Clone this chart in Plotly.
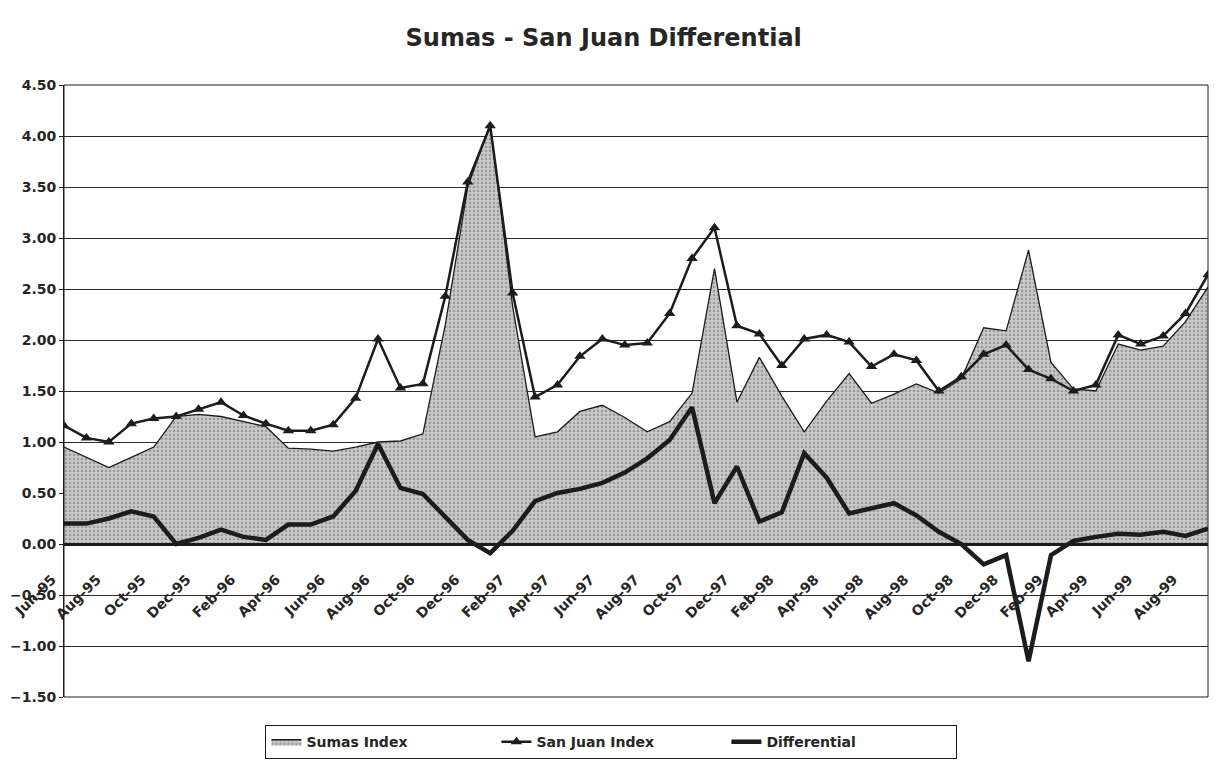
import plotly.graph_objects as go

# Monthly index prices, Jun-95 through Sep-99
months = [
    "Jun-95", "Jul-95", "Aug-95", "Sep-95", "Oct-95", "Nov-95", "Dec-95",
    "Jan-96", "Feb-96", "Mar-96", "Apr-96", "May-96", "Jun-96", "Jul-96",
    "Aug-96", "Sep-96", "Oct-96", "Nov-96", "Dec-96",
    "Jan-97", "Feb-97", "Mar-97", "Apr-97", "May-97", "Jun-97", "Jul-97",
    "Aug-97", "Sep-97", "Oct-97", "Nov-97", "Dec-97",
    "Jan-98", "Feb-98", "Mar-98", "Apr-98", "May-98", "Jun-98", "Jul-98",
    "Aug-98", "Sep-98", "Oct-98", "Nov-98", "Dec-98",
    "Jan-99", "Feb-99", "Mar-99", "Apr-99", "May-99", "Jun-99", "Jul-99",
    "Aug-99", "Sep-99",
]

sumas_index = [
    0.95, 0.85, 0.75, 0.85, 0.95, 1.25, 1.27,
    1.25, 1.20, 1.15, 0.94, 0.93, 0.91, 0.95,
    1.00, 1.01, 1.08, 2.15, 3.50,
    4.12, 2.33, 1.05, 1.10, 1.30, 1.36, 1.24,
    1.10, 1.20, 1.48, 2.70, 1.39,
    1.83, 1.45, 1.10, 1.40, 1.67, 1.38, 1.47,
    1.57, 1.48, 1.62, 2.12, 2.09,
    2.88, 1.78, 1.52, 1.50, 1.96, 1.90, 1.94,
    2.18, 2.52,
]

san_juan_index = [
    1.16, 1.04, 1.00, 1.18, 1.23, 1.25, 1.32,
    1.39, 1.26, 1.18, 1.11, 1.11, 1.17, 1.43,
    2.01, 1.53, 1.57, 2.43, 3.55,
    4.10, 2.46, 1.44, 1.56, 1.84, 2.01, 1.95,
    1.97, 2.26, 2.80, 3.10, 2.14,
    2.06, 1.75, 2.01, 2.05, 1.98, 1.74, 1.86,
    1.80, 1.50, 1.64, 1.86, 1.95,
    1.71, 1.62, 1.50, 1.56, 2.05, 1.96, 2.04,
    2.26, 2.64,
]

differential = [
    0.20, 0.20, 0.25, 0.32, 0.27, 0.00, 0.06,
    0.14, 0.07, 0.04, 0.19, 0.19, 0.27, 0.52,
    0.98, 0.55, 0.49, 0.27, 0.04,
    -0.09, 0.13, 0.42, 0.50, 0.54, 0.60, 0.70,
    0.84, 1.02, 1.34, 0.40, 0.76,
    0.22, 0.31, 0.89, 0.65, 0.30, 0.35, 0.40,
    0.28, 0.12, 0.00, -0.20, -0.11,
    -1.15, -0.11, 0.03, 0.07, 0.10, 0.09, 0.12,
    0.08, 0.15,
]

y_ticks = [4.5, 4.0, 3.5, 3.0, 2.5, 2.0, 1.5, 1.0, 0.5, 0.0, -0.5, -1.0, -1.5]
x_tick_labels = months[::2]

FONT = "DejaVu Sans, Liberation Sans, Arial, sans-serif"
INK = "#1c1c1c"
TEXT = "#262626"

fig = go.Figure()

fig.add_trace(go.Scatter(
    x=months, y=sumas_index, name="Sumas Index",
    mode="lines", fill="tozeroy",
    line=dict(color=INK, width=1.3),
    fillcolor="#c0c0c0",
    fillpattern=dict(shape=".", bgcolor="#c8c8c8", fgcolor="#6e6e6e",
                     size=4, solidity=0.3),
))

fig.add_trace(go.Scatter(
    x=months, y=san_juan_index, name="San Juan Index",
    mode="lines+markers",
    line=dict(color=INK, width=2.5),
    marker=dict(symbol="triangle-up", size=10, color=INK),
))

fig.add_trace(go.Scatter(
    x=months, y=differential, name="Differential",
    mode="lines",
    line=dict(color=INK, width=4.5),
))

fig.update_layout(
    width=1222, height=761,
    margin=dict(l=64, r=14, t=85, b=64, autoexpand=False),
    paper_bgcolor="white", plot_bgcolor="white",
    font=dict(family=FONT, color=TEXT),
    title=dict(
        text="Sumas - San Juan Differential",
        font=dict(family=FONT, size=24, weight="bold", color=TEXT),
        x=0.494, xanchor="center", y=1 - 38 / 761, yanchor="middle",
    ),
    xaxis=dict(
        type="category",
        range=[0, len(months) - 1],
        anchor="free", position=0.25,
        showline=True, linecolor=INK, linewidth=2.5,
        showgrid=False, zeroline=False,
        tickmode="array", tickvals=x_tick_labels, ticktext=x_tick_labels,
        tickangle=-45, ticks="",
        ticklabelshift=-12, ticklabelstandoff=20,
        tickfont=dict(family=FONT, size=14, weight="bold", color=TEXT),
    ),
    yaxis=dict(
        range=[-1.5, 4.5],
        tickmode="array", tickvals=y_ticks, tickformat=".2f",
        showgrid=True, gridcolor="#2a2a2a", gridwidth=1,
        zeroline=False,
        showline=True, linecolor=INK, linewidth=1,
        ticks="outside", ticklen=4, tickcolor=INK,
        tickfont=dict(family=FONT, size=14, weight="bold", color=TEXT),
    ),
    legend=dict(
        orientation="h",
        x=0.4785, xanchor="center",
        y=-0.046, yanchor="top",
        bordercolor=INK, borderwidth=1, bgcolor="white",
        font=dict(family=FONT, size=14, weight="bold", color=TEXT),
        entrywidth=185, entrywidthmode="pixels",
        traceorder="normal",
    ),
    shapes=[dict(
        type="rect", xref="x domain", yref="y domain",
        x0=0, x1=1, y0=0, y1=1,
        line=dict(color=INK, width=1), layer="above",
    )],
    showlegend=True,
)

fig.write_html("out.html")
